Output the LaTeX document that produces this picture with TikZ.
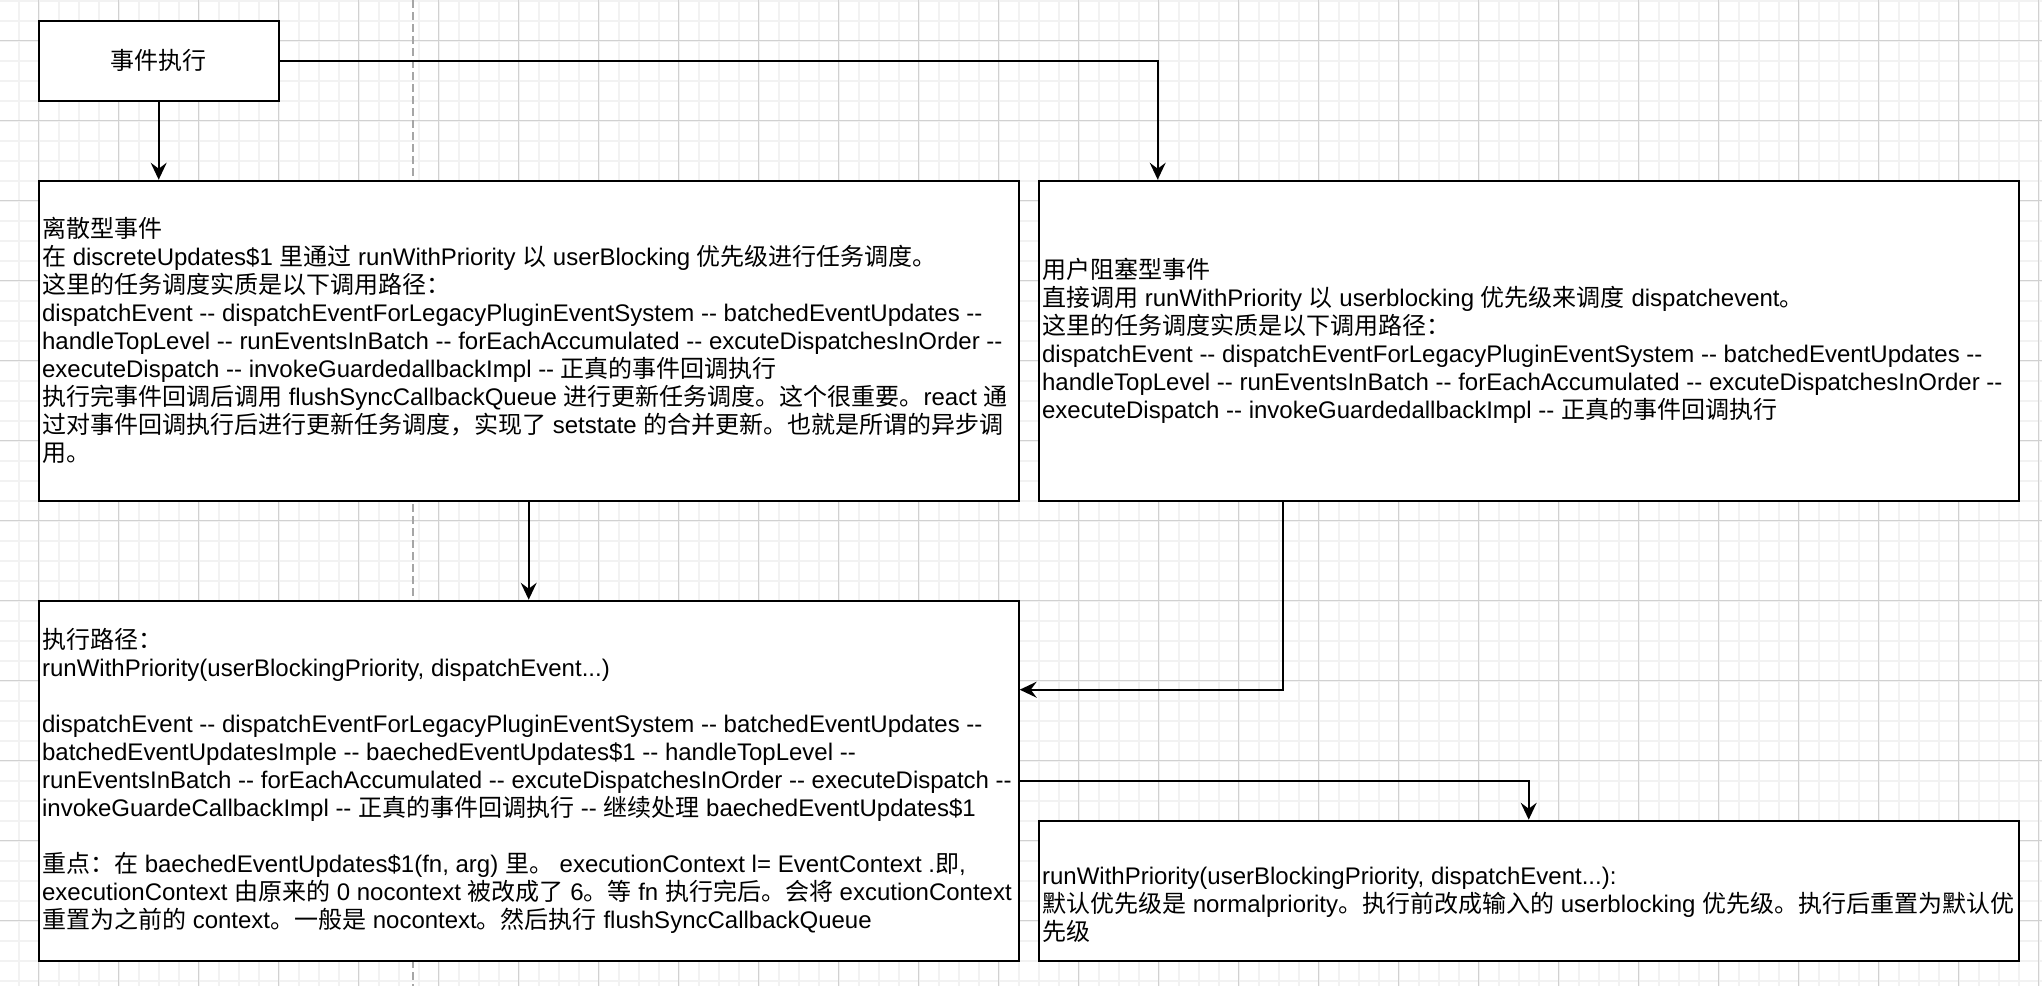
\documentclass[tikz,border=0pt]{standalone}
\usepackage{fontspec}
\setmainfont{Liberation Sans}[Ligatures=TeXOff]
\newfontfamily\cjk{Noto Sans CJK SC}
\newcommand{\zh}[1]{{\cjk #1}}
\usetikzlibrary{arrows.meta,calc}

\begin{document}
\begin{tikzpicture}[x=0.5pt, y=-0.5pt,
  box/.style={draw, line width=1pt, fill=white, inner sep=0pt},
  txt/.style={anchor=west, align=left, inner sep=0pt, font=\fontsize{12pt}{14pt}\selectfont},
  arr/.style={-{Stealth[length=8.5pt, width=8pt, inset=3pt]}, line width=1pt}]

% Parameters (box sizes, in pt)
\def\W{490pt}   % wide box width
\def\H{160pt}   % upper box height

% Canvas
\useasboundingbox (0,0) rectangle (2042,986);
\fill[white] (0,0) rectangle (2042,986);

% Grid (minor and major lines)
\foreach \gx in {-1.3,18.7,...,2042}
{
    \draw[black!5, line width=1pt] (\gx,0) -- (\gx,986);
}
\foreach \gy in {0.7,20.7,...,986}
{
    \draw[black!5, line width=1pt] (0,\gy) -- (2042,\gy);
}
\foreach \gx in {38.7,118.7,...,2042}
{
    \draw[black!18, line width=0.6pt] (\gx,0) -- (\gx,986);
}
\foreach \gy in {40.7,120.7,...,986}
{
    \draw[black!18, line width=0.6pt] (0,\gy) -- (2042,\gy);
}

% Page break line
\draw[black!35, line width=1pt, dash pattern=on 4pt off 2pt] (413,0) -- (413,986);

% Start box
\node[box, minimum width=120pt, minimum height=40pt, font=\fontsize{12pt}{14pt}\selectfont]
    (shijian) at (158.7,60.7) {\zh{事件执行}};

% Discrete events
\node[box, minimum width=\W, minimum height=\H] (lisan) at (528.7,340.7) {};
\node[txt] (lisan-t) at ([xshift=2pt]lisan.west) {%
\zh{离散型事件}\\
\zh{在} discreteUpdates\$1 \zh{里通过} runWithPriority \zh{以} userBlocking \zh{优先级进行任务调度。}\\
\zh{这里的任务调度实质是以下调用路径：}\\
dispatchEvent -- dispatchEventForLegacyPluginEventSystem -- batchedEventUpdates --\\
handleTopLevel -- runEventsInBatch -- forEachAccumulated -- excuteDispatchesInOrder --\\
executeDispatch -- invokeGuardedallbackImpl -- \zh{正真的事件回调执行}\\
\zh{执行完事件回调后调用} flushSyncCallbackQueue \zh{进行更新任务调度。这个很重要。}react \zh{通}\\
\zh{过对事件回调执行后进行更新任务调度，实现了} setstate \zh{的合并更新。也就是所谓的异步调}\\
\zh{用。}};

% User blocking events
\node[box, minimum width=\W, minimum height=\H] (zuse) at (1528.7,340.7) {};
\node[txt] (zuse-t) at ([xshift=2pt]zuse.west) {%
\zh{用户阻塞型事件}\\
\zh{直接调用} runWithPriority \zh{以} userblocking \zh{优先级来调度} dispatchevent\zh{。}\\
\zh{这里的任务调度实质是以下调用路径：}\\
dispatchEvent -- dispatchEventForLegacyPluginEventSystem -- batchedEventUpdates --\\
handleTopLevel -- runEventsInBatch -- forEachAccumulated -- excuteDispatchesInOrder --\\
executeDispatch -- invokeGuardedallbackImpl -- \zh{正真的事件回调执行}};

% Execution path
\node[box, minimum width=\W, minimum height=180pt] (lujing) at (528.7,780.7) {};
\node[txt] (lujing-t) at ([xshift=2pt]lujing.west) {%
\zh{执行路径：}\\
runWithPriority(userBlockingPriority, dispatchEvent...)\\
~\\
dispatchEvent -- dispatchEventForLegacyPluginEventSystem -- batchedEventUpdates --\\
batchedEventUpdatesImple -- baechedEventUpdates\$1 -- handleTopLevel --\\
runEventsInBatch -- forEachAccumulated -- excuteDispatchesInOrder -- executeDispatch --\\
invokeGuardeCallbackImpl -- \zh{正真的事件回调执行} -- \zh{继续处理} baechedEventUpdates\$1\\
~\\
\zh{重点：在} baechedEventUpdates\$1(fn, arg) \zh{里。} executionContext l= EventContext .\zh{即},\\
executionContext \zh{由原来的} 0 nocontext \zh{被改成了} 6\zh{。等} fn \zh{执行完后。会将} excutionContext\\
\zh{重置为之前的} context\zh{。一般是} nocontext\zh{。然后执行} flushSyncCallbackQueue};

% Priority note
\node[box, minimum width=\W, minimum height=70pt] (youxian) at (1528.7,890.7) {};
\node[txt, yshift=-7pt] (youxian-t) at ([xshift=2pt]youxian.west) {%
runWithPriority(userBlockingPriority, dispatchEvent...):\\
\zh{默认优先级是} normalpriority\zh{。执行前改成输入的} userblocking \zh{优先级。执行后重置为默认优}\\
\zh{先级}};

% Connectors
\draw[arr] (shijian.south) -- (shijian.south |- lisan.north);
\draw[arr] (shijian.east) -| ($(zuse.north west)+(120,0)$);
\draw[arr] (lisan.south) -- (lujing.north);
\draw[arr] ($(zuse.south west)+(245,0)$) |- ($(lujing.north east)+(0,90)$);
\draw[arr] (lujing.east) -| (youxian.north);

\end{tikzpicture}
\end{document}
